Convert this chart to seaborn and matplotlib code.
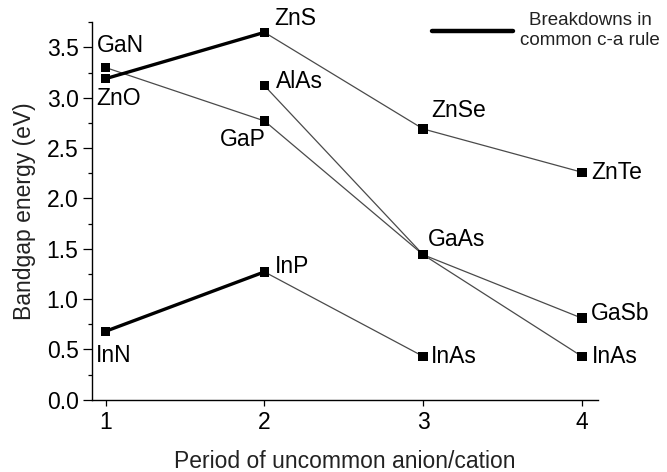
import matplotlib
matplotlib.use("Agg")
import matplotlib.pyplot as plt
from matplotlib.lines import Line2D
from matplotlib.ticker import MultipleLocator, FormatStrFormatter
import pandas as pd
import seaborn as sns

# Compounds, their uncommon-ion period and bandgap (eV)
point_ids = ["GaN", "ZnO", "InN", "ZnS", "AlAs", "GaP", "InP",
             "ZnSe", "GaAs", "InAs3", "ZnTe", "GaSb", "InAs4"]
labels = ["GaN", "ZnO", "InN", "ZnS", "AlAs", "GaP", "InP",
          "ZnSe", "GaAs", "InAs", "ZnTe", "GaSb", "InAs"]
periods = [1, 1, 1, 2, 2, 2, 2, 3, 3, 3, 4, 4, 4]
gaps = [3.30, 3.19, 0.68, 3.65, 3.12, 2.77, 1.27,
        2.69, 1.44, 0.43, 2.26, 0.81, 0.43]

# Series following the common cation/anion rule
rule_paths = [["ZnS", "ZnSe", "ZnTe"],
              ["GaN", "GaP", "GaAs", "GaSb"],
              ["AlAs", "GaAs", "InAs4"],
              ["InP", "InAs3"]]
# Pairs where the rule breaks down
breakdown_paths = [["ZnO", "ZnS"], ["InN", "InP"]]

x_ticks = [1, 2, 3, 4]

# Label placement (pixel offsets from each point, horizontal alignment)
label_style = {
    "GaN": (-9, 22, "left"), "ZnO": (-9, -20, "left"), "InN": (-10, -24, "left"),
    "ZnS": (10, 14, "left"), "AlAs": (12, 4, "left"), "GaP": (1, -19, "right"),
    "InP": (10, 5, "left"), "ZnSe": (8, 18, "left"), "GaAs": (5, 15, "left"),
    "InAs3": (8, 0, "left"), "ZnTe": (9, 0, "left"), "GaSb": (9, 5, "left"),
    "InAs4": (10, 0, "left"),
}

points = pd.DataFrame({"id": point_ids, "label": labels,
                       "period": periods, "gap": gaps}).set_index("id")


def path_frame(paths):
    rows = []
    for k, path in enumerate(paths):
        for pid in path:
            rows.append({"path": k, "period": points.loc[pid, "period"],
                         "gap": points.loc[pid, "gap"]})
    return pd.DataFrame(rows)


sns.set_theme(style="ticks")
plt.rcParams["font.family"] = ["Liberation Sans", "DejaVu Sans"]

fig = plt.figure(figsize=(6.67, 4.72), dpi=100)
ax = fig.add_axes([0.1375, 0.1532, 0.897 - 0.1375, 0.9528 - 0.1532])

sns.lineplot(data=path_frame(rule_paths), x="period", y="gap", units="path",
             estimator=None, color="#4a4a4a", linewidth=0.9, ax=ax,
             legend=False, sort=False)
sns.lineplot(data=path_frame(breakdown_paths), x="period", y="gap", units="path",
             estimator=None, color="black", linewidth=2.4, ax=ax,
             legend=False, sort=False, solid_capstyle="round")
sns.scatterplot(data=points, x="period", y="gap", marker="s", s=46,
                color="black", edgecolor="none", linewidth=0, ax=ax,
                zorder=5, legend=False)

for pid, row in points.iterrows():
    dx, dy, ha = label_style[pid]
    ax.annotate(row["label"], (row["period"], row["gap"]),
                xytext=(dx, dy), textcoords="offset pixels",
                ha=ha, va="center", fontsize=16.5, color="black",
                annotation_clip=False)

ax.set_xlim(0.912, 4.103)
ax.set_ylim(0, 3.75)
ax.set_xticks(x_ticks)
ax.yaxis.set_major_locator(MultipleLocator(0.5))
ax.yaxis.set_minor_locator(MultipleLocator(0.25))
ax.yaxis.set_major_formatter(FormatStrFormatter("%.1f"))

for side in ("top", "right"):
    ax.spines[side].set_visible(False)
for side in ("left", "bottom"):
    ax.spines[side].set_linewidth(1.0)
    ax.spines[side].set_color("black")

ax.tick_params(axis="y", which="major", length=6.5, width=0.9, pad=3,
               labelsize=16.5, colors="black")
ax.tick_params(axis="y", which="minor", length=3, width=0.9, color="black")
ax.tick_params(axis="x", which="major", length=4, width=0.9, pad=4,
               labelsize=16.5, colors="black")

ax.set_xlabel("Period of uncommon anion/cation", fontsize=16.5,
              color="#222222", labelpad=12)
ax.set_ylabel("Bandgap energy (eV)", fontsize=16.5, color="#222222",
              labelpad=8)

handle = Line2D([], [], color="black", linewidth=3.2, solid_capstyle="round")
leg = ax.legend([handle], ["Breakdowns in\ncommon c-a rule"], loc="center",
                bbox_to_anchor=(0.897, 0.978), frameon=False, fontsize=13.5,
                handlelength=4.3, handletextpad=0.4, borderpad=0,
                borderaxespad=0)
for t in leg.get_texts():
    t.set_multialignment("center")
    t.set_color("#222222")

fig.savefig("out.png", dpi=100)
